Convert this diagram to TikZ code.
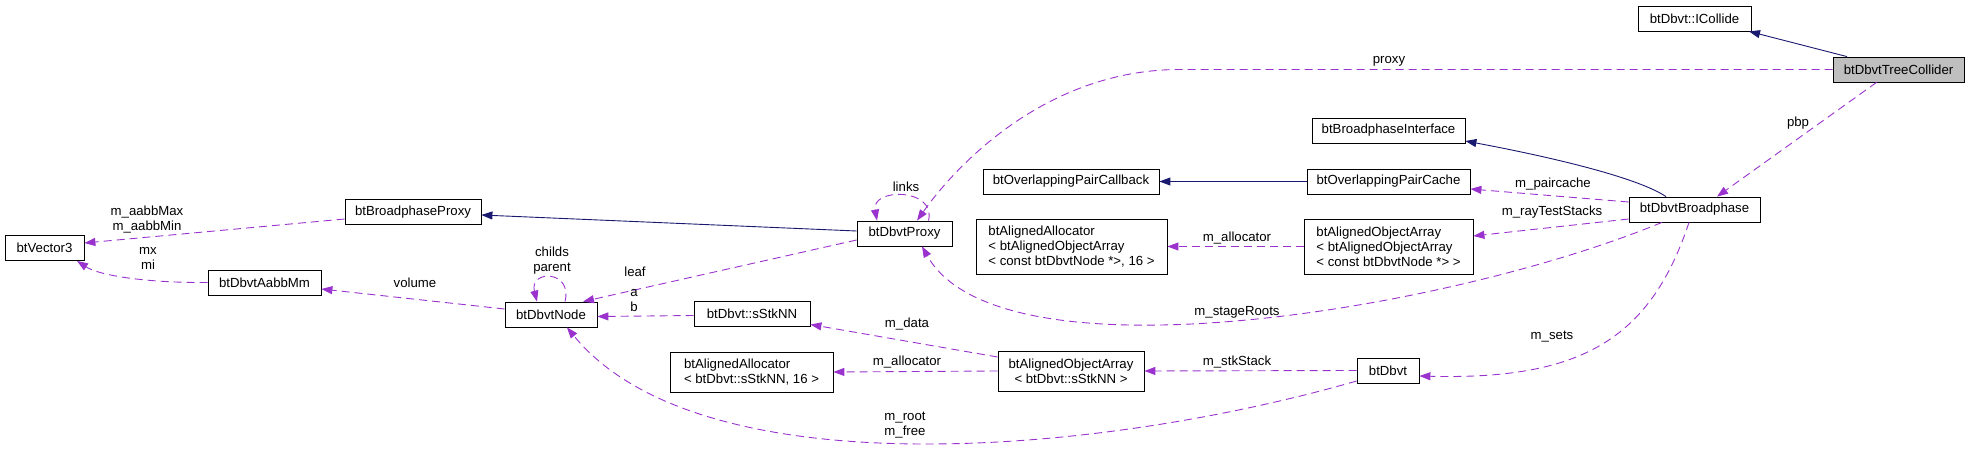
\documentclass[tikz,border=0pt]{standalone}
\usepackage{fontspec}
\setmainfont{Liberation Sans}
\usetikzlibrary{arrows.meta}
\definecolor{inhblue}{HTML}{191970}
\definecolor{usepurple}{HTML}{9A32CD}
\definecolor{maingray}{HTML}{BFBFBF}
\begin{document}
\begin{tikzpicture}[x=1pt,y=-1pt,font=\fontsize{13.2}{15}\selectfont,
  cls/.style={draw,line width=0.8pt,inner sep=0pt,minimum height=25pt},
  inherit/.style={draw=inhblue,line width=0.9pt,-{Triangle[length=11pt,width=8pt]}},
  member/.style={draw=usepurple,line width=0.9pt,dash pattern=on 8pt off 5pt,-{Triangle[length=11pt,width=8pt]}},
  lbl/.style={inner sep=0pt,align=center}]
\useasboundingbox (0,0) rectangle (1969,449);
\node[cls,minimum width=131pt,fill=maingray] (collider) at (1898.5,69.5) {btDbvtTreeCollider};
\node[cls,minimum width=113pt] (icollide) at (1694.5,18.5) {btDbvt::ICollide};
\node[cls,minimum width=153pt] (bpiface) at (1388.5,130.5) {btBroadphaseInterface};
\node[cls,minimum width=163pt] (pcache) at (1388.5,181.5) {btOverlappingPairCache};
\node[cls,minimum width=176pt] (pcallback) at (1071,181.5) {btOverlappingPairCallback};
\node[cls,minimum width=131pt] (dbvtbp) at (1694.5,209.5) {btDbvtBroadphase};
\node[cls,minimum width=169pt,minimum height=55pt,align=left] (aoanode) at (1388.5,246.5) {btAlignedObjectArray\\< btAlignedObjectArray\\< const btDbvtNode *> >};
\node[cls,minimum width=191pt,minimum height=55pt,align=left] (aanode) at (1071.5,246.5) {btAlignedAllocator\\< btAlignedObjectArray\\< const btDbvtNode *>, 16 >};
\node[cls,minimum width=95pt] (dbvtproxy) at (904.5,233.5) {btDbvtProxy};
\node[cls,minimum width=136pt] (bproxy) at (413,212) {btBroadphaseProxy};
\node[cls,minimum width=79pt] (vec3) at (44.5,248) {btVector3};
\node[cls,minimum width=113pt] (aabbmm) at (264.5,282.5) {btDbvtAabbMm};
\node[cls,minimum width=92pt] (dnode) at (551,314.5) {btDbvtNode};
\node[cls,minimum width=116pt] (stknn) at (752,313.5) {btDbvt::sStkNN};
\node[cls,minimum width=163pt,minimum height=40pt,align=left] (aastk) at (751.5,372) {btAlignedAllocator\\< btDbvt::sStkNN, 16 >};
\node[cls,minimum width=146pt,minimum height=40pt,align=center] (aostk) at (1071,371) {btAlignedObjectArray\\< btDbvt::sStkNN >};
\node[cls,minimum width=62pt] (dbvt) at (1388,370.5) {btDbvt};

\draw[inherit] ([xshift=-51.5]collider.north) -- ([xshift=54.5]icollide.south);
\draw[member] (collider.west) -- (1180,69.5) .. controls (1050,69.5) and (960,160) .. ([xshift=12.5]dbvtproxy.north);
\draw[member] ([xshift=-22]collider.south) -- ([xshift=22.5]dbvtbp.north);
\draw[inherit] ([xshift=-28.5]dbvtbp.north) .. controls +(-30,-20) and +(80,15) .. ([yshift=-10.5]bpiface.east);
\draw[inherit] (pcache.west) -- (pcallback.east);
\draw[member] ([yshift=7.5]dbvtbp.west) -- ([yshift=-7.5]pcache.east);
\draw[member] ([yshift=-9.5]dbvtbp.west) -- ([yshift=10.5]aoanode.east);
\draw[member] (aoanode.west) -- (aanode.east);
\draw[member] ([xshift=-32.5]dbvtbp.south) .. controls (1450,310) and (1000,385) .. ([xshift=17.5]dbvtproxy.south);
\draw[member] ([xshift=-5.5]dbvtbp.south) .. controls (1650,340) and (1580,380) .. ([yshift=-5.5]dbvt.east);
\draw[member] ([xshift=24]dbvtproxy.north) .. controls +(8,-33) and +(-6,-33) .. ([xshift=-27.5]dbvtproxy.north);
\draw[inherit] ([yshift=2.5]dbvtproxy.west) -- ([yshift=-3]bproxy.east);
\draw[member] ([yshift=-6.5]dbvtproxy.west) -- ([xshift=32]dnode.north);
\draw[member] ([xshift=14]dnode.north) .. controls +(8,-32) and +(-8,-32) .. ([xshift=-14]dnode.north);
\draw[member] ([yshift=5.5]dnode.west) -- ([yshift=-6.5]aabbmm.east);
\draw[member] (aabbmm.west) .. controls (150,283) and (100,276) .. ([xshift=32.5]vec3.south);
\draw[member] ([yshift=-7]bproxy.west) -- ([yshift=5]vec3.east);
\draw[member] ([yshift=-2]stknn.west) -- ([yshift=-2]dnode.east);
\draw[member] ([yshift=14]aostk.west) -- ([yshift=-11]stknn.east);
\draw[member] (aostk.west) -- (aastk.east);
\draw[member] (dbvt.west) -- (aostk.east);
\draw[member] ([yshift=-10.5]dbvt.west) .. controls (1100,455) and (700,490) .. ([xshift=16]dnode.south);

\node[lbl] (lproxy) at (1389,61) {proxy};
\node[lbl] (lpbp) at (1798,123) {pbp};
\node[lbl] (llinks) at (906,187) {links};
\node[lbl] (lpaircache) at (1553,184) {m\_paircache};
\node[lbl] (lraytest) at (1552,212) {m\_rayTestStacks};
\node[lbl] (lalloc) at (1237,238) {m\_allocator};
\node[lbl] (lstage) at (1237,312) {m\_stageRoots};
\node[lbl] (lsets) at (1552,337) {m\_sets};
\node[lbl] (lstk) at (1237,362) {m\_stkStack};
\node[lbl] (ldata) at (907,324) {m\_data};
\node[lbl] (lallocb) at (907,362) {m\_allocator};
\node[lbl] (lroot) at (905,425) {m\_root\\m\_free};
\node[lbl] (lab) at (634,301) {a\\b};
\node[lbl] (lleaf) at (635,272) {leaf};
\node[lbl] (lchilds) at (552,261) {childs\\parent};
\node[lbl] (lvolume) at (415,283) {volume};
\node[lbl] (lmx) at (148,258) {mx\\mi};
\node[lbl] (laabb) at (147,220) {m\_aabbMax\\m\_aabbMin};
\end{tikzpicture}
\end{document}
